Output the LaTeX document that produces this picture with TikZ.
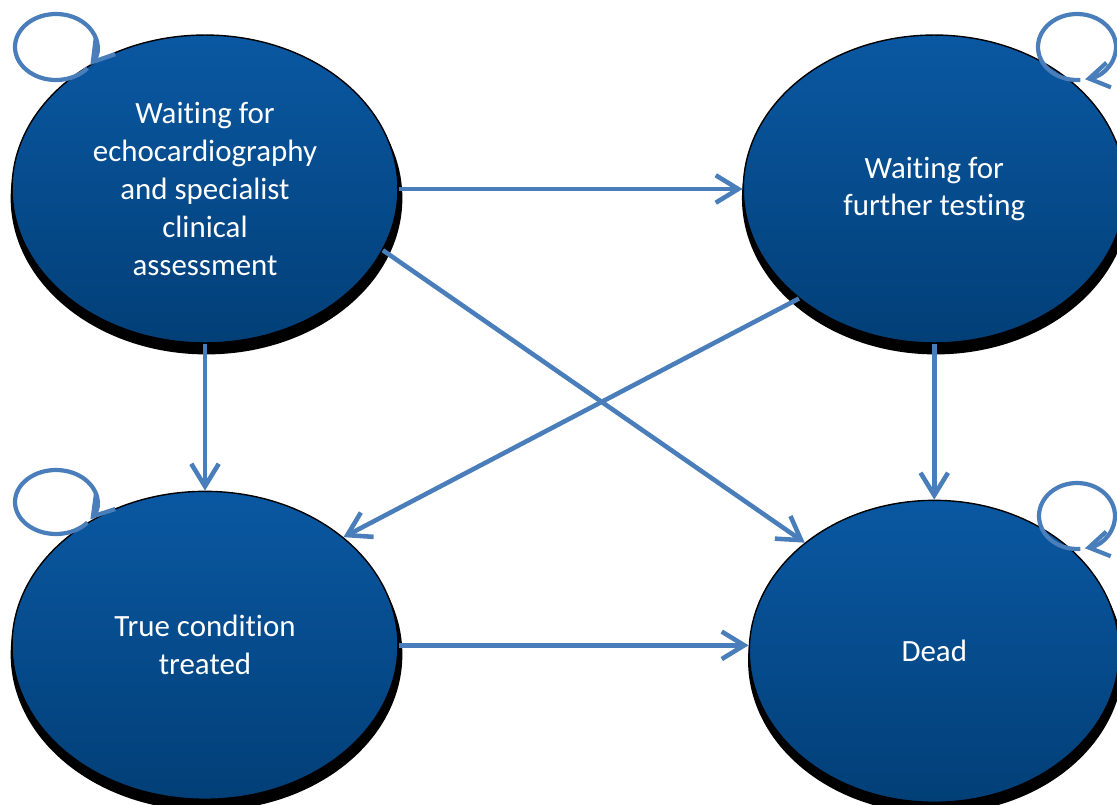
\documentclass[tikz,border=0pt]{standalone}
\usepackage{fontspec}
\setmainfont[Ligatures=NoCommon]{Carlito}
\usetikzlibrary{positioning,arrows.meta,shapes.geometric,shadows}
\definecolor{stageTop}{HTML}{0A58A2}
\definecolor{stageBot}{HTML}{023F77}
\definecolor{link}{HTML}{4A7EBB}
\tikzset{
  stage/.style={ellipse, draw=black, line width=0.8pt, top color=stageTop, bottom color=stageBot,
                minimum width=7.72cm, minimum height=6.16cm, inner sep=0pt, align=center,
                text=white, font=\fontsize{17.6}{21.6}\selectfont,
                drop shadow={shadow xshift=0.03cm, shadow yshift=-0.18cm, shadow scale=1.015,
                             fill=black, opacity=1}},
  flow/.style={-{Straight Barb[length=4.5mm, width=5.5mm]}, line width=2.6pt, draw=link},
  selfloop/.style={-{Straight Barb[length=4mm, width=5mm]}, line width=2.4pt, draw=link}
}

\begin{document}
\begin{tikzpicture}[x=0.02cm, y=-0.02cm]
\useasboundingbox (0,0) rectangle (1117,805);
\node[stage] (echo) at (205,189) {Waiting for\\echocardiography\\and specialist\\clinical\\assessment};
\node[stage, minimum width=7.64cm, right=6.88cm of echo] (testing) {Waiting for\\further testing};
\node[stage, below=2.94cm of echo] (treated) {True condition\\treated};
\node[stage, minimum width=7.4cm, minimum height=6.04cm, below=3.12cm of testing] (dead) {Dead};

% self loops
\coordinate (echoloop) at (56,47);
\coordinate (testloop) at (1077,47);
\coordinate (treatloop) at (56,502);
\coordinate (deadloop) at (1077,516);
\draw[selfloop] (echoloop) ++(320:0.82cm and 0.66cm) arc[start angle=320, end angle=-33, x radius=0.82cm, y radius=0.66cm];
\draw[selfloop] (testloop) ++(275:0.78cm and 0.66cm) arc[start angle=275, end angle=-78, x radius=0.78cm, y radius=0.66cm];
\draw[selfloop] (treatloop) ++(320:0.82cm and 0.64cm) arc[start angle=320, end angle=-33, x radius=0.82cm, y radius=0.64cm];
\draw[selfloop] (deadloop) ++(275:0.76cm and 0.66cm) arc[start angle=275, end angle=-78, x radius=0.76cm, y radius=0.66cm];

\draw[flow] (echo) -- (testing);
\draw[flow] (echo) -- (treated);
\draw[flow] (testing) -- (dead);
\draw[flow] (echo.-19) -- (dead.140);
\draw[flow] (testing.219) -- (treated.38);
\draw[flow] (treated.east) -- (treated.east -| dead.west);
\end{tikzpicture}
\end{document}
